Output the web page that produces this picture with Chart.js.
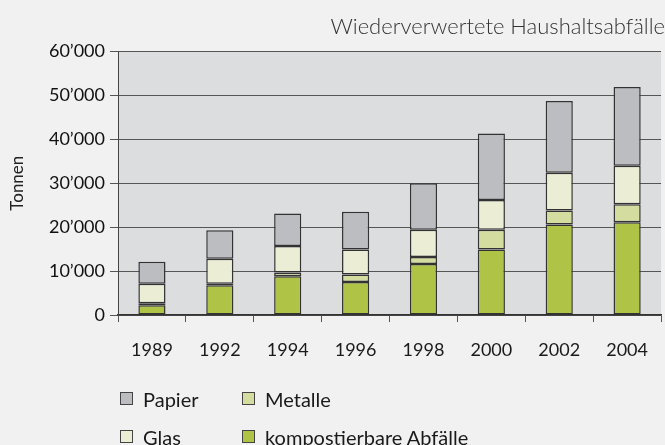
<!DOCTYPE html>
<html>
<head>
<meta charset="utf-8">
<script src="https://cdn.jsdelivr.net/npm/chart.js@4"></script>
<style>
  html, body { margin: 0; padding: 0; background: #f1f1f1; }
  #wrap { position: relative; width: 665px; height: 445px; }
  #legend { position: absolute; left: 120px; top: 386px; display: grid;
    grid-template-columns: 122px auto; row-gap: 13px;
    font-family: Lato, "Open Sans", sans-serif; font-size: 20px; color: #1a1a1a; }
  .item { display: flex; align-items: center; height: 25px; }
  .box { width: 11px; height: 11px; border: 1px solid #444; margin-right: 10px; }
</style>
</head>
<body>
<div id="wrap">
  <canvas id="chart" width="665" height="445"></canvas>
  <div id="legend"></div>
</div>
<script>
// Data (tonnes)
var years = ['1989', '1992', '1994', '1996', '1998', '2000', '2002', '2004'];
var kompost = [2200, 6800, 8800, 7500, 11600, 14900, 20600, 21100];
var metalle = [500, 300, 900, 1700, 1600, 4500, 3200, 4100];
var glas = [4400, 5700, 6000, 5700, 6200, 6800, 8600, 8800];
var papier = [5000, 6500, 7400, 8600, 10600, 15100, 16300, 17900];

var colors = {
    kompost: '#afc447',
    metalle: '#d5dc9f',
    glas: '#ebedd4',
    papier: '#bcbdc1'
};

function formatTonnes(v) {
    if (v === 0) return '0';
    return (v / 1000) + '\u2019000';
}

// grey plot background
var plotBackground = {
    id: 'plotBackground',
    beforeDraw: function (chart) {
        var a = chart.chartArea;
        var ctx = chart.ctx;
        ctx.save();
        ctx.fillStyle = '#dcdddf';
        ctx.fillRect(a.left, a.top, a.right - a.left, a.bottom - a.top);
        ctx.restore();
    }
};

function makeSet(label, values, color) {
    return {
        label: label,
        data: values,
        backgroundColor: color,
        borderColor: '#333',
        borderWidth: 1.5,
        borderSkipped: false,
        barPercentage: 0.4,
        categoryPercentage: 1
    };
}

var ctx = document.getElementById('chart').getContext('2d');
var chart = new Chart(ctx, {
    type: 'bar',
    data: {
        labels: years,
        datasets: [
            makeSet('kompostierbare Abfälle', kompost, colors.kompost),
            makeSet('Metalle', metalle, colors.metalle),
            makeSet('Glas', glas, colors.glas),
            makeSet('Papier', papier, colors.papier)
        ]
    },
    options: {
        responsive: false,
        animation: false,
        layout: { padding: { top: 0, right: 0, bottom: 0, left: 0 } },
        plugins: {
            legend: { display: false },
            tooltip: { enabled: false },
            title: {
                display: true,
                text: 'Wiederverwertete Haushaltsabfälle',
                align: 'end',
                color: '#333',
                font: { family: 'Lato', size: 22, weight: '300' },
                padding: { top: 14, bottom: 11 }
            }
        },
        scales: {
            x: {
                stacked: true,
                afterFit: function (axis) { axis.height = 130; },
                border: { color: '#333', width: 1.5 },
                grid: { offset: true, drawOnChartArea: false, drawTicks: true, tickLength: 7, color: '#555' },
                ticks: { color: '#1a1a1a', padding: 17, font: { family: 'Lato', size: 18 } }
            },
            y: {
                stacked: true,
                min: 0,
                max: 60000,
                afterFit: function (axis) { axis.width = 118; },
                border: { color: '#444', width: 1 },
                grid: { color: '#555', lineWidth: 1, tickLength: 8 },
                ticks: {
                    stepSize: 10000,
                    padding: 5,
                    color: '#111',
                    font: { family: 'Lato', size: 18 },
                    callback: function (v) { return formatTonnes(v); }
                },
                title: {
                    display: true,
                    text: 'Tonnen',
                    color: '#222',
                    font: { family: 'Lato', size: 17 },
                    padding: { top: 7, bottom: 0 }
                }
            }
        }
    },
    plugins: [plotBackground]
});

// legend in the reference order: two columns
var legendOrder = [
    ['Papier', colors.papier],
    ['Metalle', colors.metalle],
    ['Glas', colors.glas],
    ['kompostierbare Abfälle', colors.kompost]
];
var legend = document.getElementById('legend');
legendOrder.forEach(function (it) {
    var d = document.createElement('div');
    d.className = 'item';
    d.innerHTML = '<span class="box" style="background:' + it[1] + '"></span><span>' + it[0] + '</span>';
    legend.appendChild(d);
});
</script>
</body>
</html>
